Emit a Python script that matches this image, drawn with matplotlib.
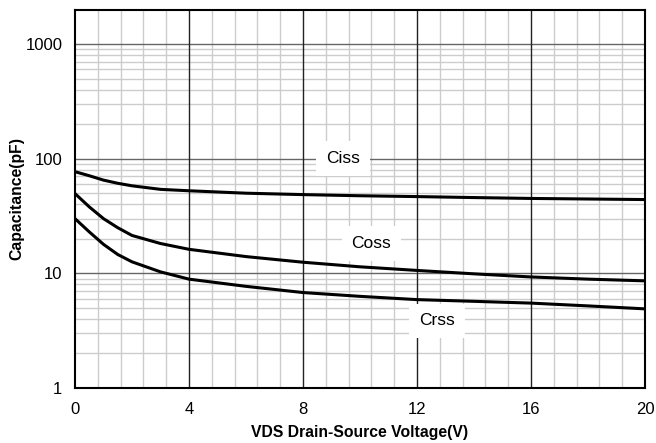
import numpy as np
import matplotlib
matplotlib.use("Agg")
import matplotlib.pyplot as plt

plt.rcParams['font.family'] = ['Liberation Sans', 'DejaVu Sans']

# VDS (V) and capacitances (pF)
vds = [0, 0.5, 1, 1.5, 2, 3, 4, 6, 8, 10, 12, 14, 16, 18, 20]
ciss = [77, 71, 65, 61, 58, 54, 52.5, 50, 48.6, 47.5, 46.7, 45.8, 45, 44.5, 44]
coss = [49.6, 38, 30, 25, 21.4, 18.2, 16.2, 14, 12.5, 11.4, 10.6, 9.9, 9.3, 8.9, 8.6]
crss = [30, 23, 17.9, 14.6, 12.6, 10.3, 8.9, 7.7, 6.8, 6.3, 5.9, 5.7, 5.5, 5.2, 4.9]

labels = ['Ciss', 'Coss', 'Crss']
label_pos = [(9.4, 100), (10.4, 18.2), (12.7, 3.85)]

x_major = [0, 4, 8, 12, 16, 20]

fig = plt.figure(figsize=(6.56, 4.43), dpi=100)
ax = fig.add_axes([75/656, 1-388/443, 570/656, 378/443])
ax.set_yscale('log')
ax.set_xlim(0, 20)
ax.set_ylim(1, 1980)

# grid
for xv in np.arange(0, 20.01, 0.8):
    if min(abs(xv - m) for m in x_major) > 0.01:
        ax.axvline(xv, color='#cccccc', lw=1, zorder=0)
for dec in [1, 10, 100]:
    for k in range(2, 10):
        ax.axhline(dec*k, color='#cccccc', lw=1, zorder=0)
for yv in [10, 100, 1000]:
    ax.axhline(yv, color='#666666', lw=1, zorder=1)
for xv in x_major[1:-1]:
    ax.axvline(xv, color='#222222', lw=1, zorder=1)

for ys in [ciss, coss, crss]:
    ax.plot(vds, ys, color='black', lw=2.2, zorder=3)

for t, (px, py) in zip(labels, label_pos):
    ax.text(px, py, t, ha='center', va='center', fontsize=12.5, zorder=4,
            bbox=dict(facecolor='white', edgecolor='none', pad=7))

ax.set_xticks(x_major)
ax.set_xticklabels([str(v) for v in x_major])
ax.set_yticks([1, 10, 100, 1000])
ax.set_yticklabels(['1', '10', '100', '1000'])
ax.minorticks_off()
ax.tick_params(axis='x', length=0, labelsize=12, pad=10)
ax.tick_params(axis='y', length=0, labelsize=12, pad=9)
for s in ax.spines.values():
    s.set_linewidth(1.5)

ax.set_xlabel('VDS Drain-Source Voltage(V)', fontsize=11.3, fontweight='bold', labelpad=6)
ax.set_ylabel('Capacitance(pF)', fontsize=11.3, fontweight='bold', labelpad=1)

fig.savefig('out.png', dpi=100)
